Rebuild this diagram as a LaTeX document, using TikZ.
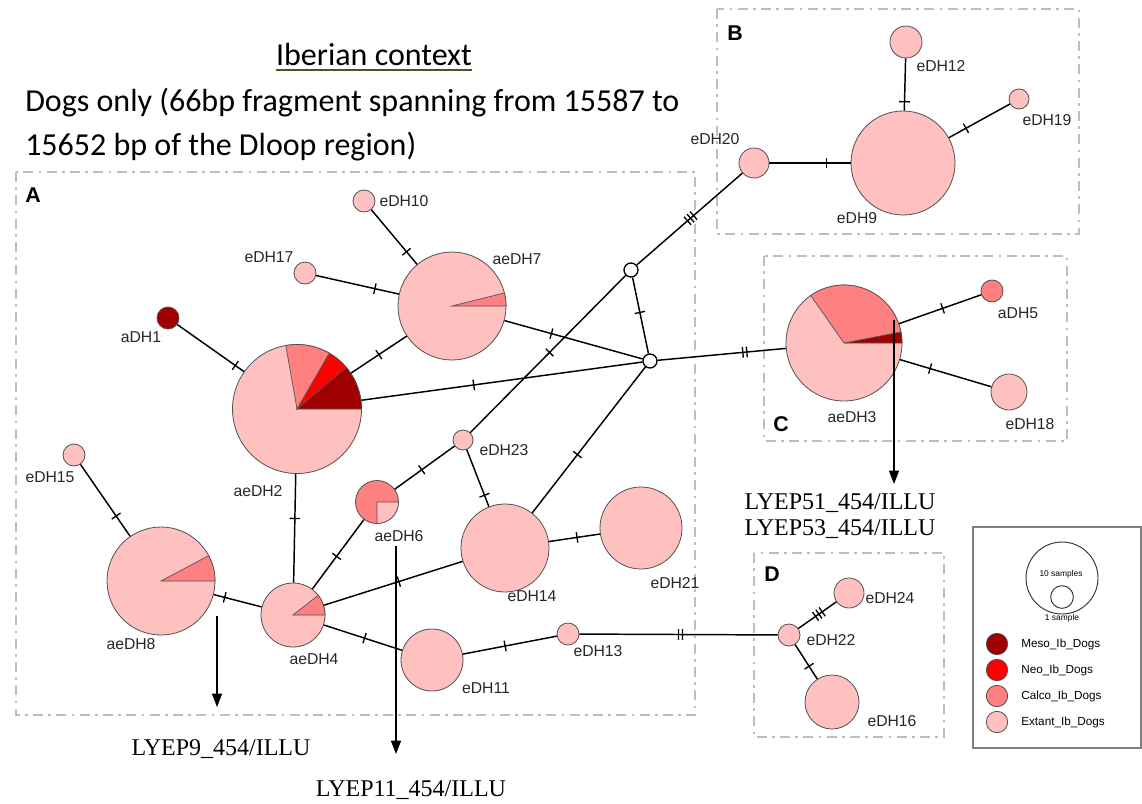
\documentclass[tikz,border=0pt]{standalone}
\usepackage{fontspec}
\setmainfont{Liberation Sans}
\newfontfamily\calibrifont{Carlito}
\newfontfamily\timesfont{Liberation Serif}
\usepackage{xcolor}
\usepackage{tikz}
\usetikzlibrary{arrows.meta, decorations.markings}

\definecolor{extant}{RGB}{255,192,192}
\definecolor{calco}{RGB}{255,128,128}
\definecolor{neo}{RGB}{255,0,0}
\definecolor{meso}{RGB}{160,0,0}
\definecolor{rim}{RGB}{80,80,80}
\definecolor{boxgray}{RGB}{190,190,190}
\definecolor{olivebar}{RGB}{61,90,39}

\newcommand{\pieslice}[5]{%
  \filldraw [draw=rim, line width=0.5pt, fill=#5] (#1.center) -- ++(#3:{#2*0.75pt})
    arc [start angle=#3, end angle=#4, radius={#2*0.75pt}] -- cycle;}

\begin{document}
\begin{tikzpicture}[
    x=0.75pt, y=-0.75pt,
    hap/.style={circle, draw=rim, line width=0.6pt, fill=extant, inner sep=0pt, minimum size=#1*1.5pt},
    medvec/.style={circle, draw=black, line width=1pt, fill=white, inner sep=0pt, minimum size=10.5pt},
    link/.style={line width=1.1pt},
    tickone/.style={postaction={decorate, decoration={markings, mark=at position #1 with {\draw [line width=1pt] (0pt,-4pt) -- (0pt,4pt);}}}},
    ticktwo/.style={postaction={decorate, decoration={markings, mark=at position #1 with {\draw [line width=1pt] (-1.5pt,-4pt) -- (-1.5pt,4pt) (1.5pt,-4pt) -- (1.5pt,4pt);}}}},
    tickthree/.style={postaction={decorate, decoration={markings, mark=at position #1 with {\draw [line width=1pt] (-3pt,-4pt) -- (-3pt,4pt) (0pt,-4pt) -- (0pt,4pt) (3pt,-4pt) -- (3pt,4pt);}}}},
    region/.style={draw=boxgray, line width=1.4pt, dash pattern=on 7.5pt off 4pt on 2pt off 4pt},
    boxletter/.style={font=\bfseries\fontsize{16}{18}\selectfont},
    lab/.style={font=\fontsize{11.8}{14}\selectfont, text=black!85, inner sep=0pt},
    pointer/.style={line width=1pt, -{Triangle[length=10pt, width=7.5pt]}},
    tag/.style={font=\timesfont\fontsize{18}{19.5}\selectfont, align=center, inner sep=0pt},
    keytext/.style={font=\fontsize{8.8}{10}\selectfont, anchor=west, inner sep=0pt},
    heading/.style={font=\calibrifont\fontsize{24}{28}\selectfont, inner sep=0pt}
]
    \useasboundingbox (0,0) rectangle (1142,803);

    \node [heading, anchor=base] (title) at (374,65) {Iberian context};
    \draw [olivebar, line width=1.5pt] ([yshift=-4pt]title.base west) -- ([yshift=-4pt]title.base east);
    \node [heading, anchor=base west] (sub1) at (25,111) {Dogs only (66bp fragment spanning from 15587 to};
    \node [heading, anchor=base west] (sub2) at (25,155) {15652 bp of the Dloop region)};

    \draw [region] (16,172) rectangle (695,715);
    \draw [region] (717,9) rectangle (1079,234);
    \draw [region] (764,256) rectangle (1067,441);
    \draw [region] (754,553) rectangle (944,737);
    \node [boxletter] (letA) at (33,195) {A};
    \node [boxletter] (letB) at (735,33) {B};
    \node [boxletter] (letC) at (781,424) {C};
    \node [boxletter] (letD) at (772,574) {D};

    \node [hap=64.5] (aeDH2) at (297,409) {};
    \node [hap=54] (aeDH7) at (452,306) {};
    \node [hap=54] (aeDH8) at (161,581) {};
    \node [hap=32] (aeDH4) at (293,615) {};
    \node [hap=21.5, fill=calco] (aeDH6) at (377,502) {};
    \node [hap=58] (aeDH3) at (844,343) {};
    \node [hap=11, fill=meso] (aDH1) at (168,318) {};
    \node [hap=11] (eDH10) at (364,201) {};
    \node [hap=11] (eDH17) at (305,273) {};
    \node [hap=11] (eDH15) at (74,455) {};
    \node [hap=10] (eDH23) at (463,440) {};
    \node [hap=44] (eDH14) at (505,548) {};
    \node [hap=41] (eDH21) at (641,528) {};
    \node [hap=31] (eDH11) at (432,660) {};
    \node [hap=11] (eDH13) at (568,634) {};
    \node [hap=11] (eDH22) at (789,635) {};
    \node [hap=15] (eDH24) at (849,593) {};
    \node [hap=27] (eDH16) at (832,702) {};
    \node [hap=15] (eDH20) at (754,163) {};
    \node [hap=52] (eDH9) at (903,163) {};
    \node [hap=16] (eDH12) at (906,42) {};
    \node [hap=10] (eDH19) at (1019,99) {};
    \node [hap=11, fill=calco] (aDH5) at (992,291) {};
    \node [hap=18] (eDH18) at (1009,392) {};
    \node [medvec] (mv1) at (631,270) {};
    \node [medvec] (mv2) at (650,361) {};

    \draw [link, tickone=0.87] (aDH1) -- (aeDH2);
    \draw [link, tickone=0.71] (eDH17) -- (aeDH7);
    \draw [link, tickone=0.77] (eDH10) -- (aeDH7);
    \draw [link, tickone=0.5] (aeDH2) -- (aeDH7);
    \draw [link, tickone=0.34] (aeDH7) -- (mv2);
    \draw [link, tickone=0.4] (aeDH2) -- (mv2);
    \draw [link, tickone=0.46] (mv1) -- (mv2);
    \draw [link, tickthree=0.51] (mv1) -- (eDH20);
    \draw [link, tickone=0.49] (mv1) -- (eDH23);
    \draw [link, tickone=0.55] (eDH23) -- (aeDH6);
    \draw [link, tickone=0.8] (eDH23) -- (eDH14);
    \draw [link, tickone=0.6] (mv2) -- (eDH14);
    \draw [link, ticktwo=0.68] (mv2) -- (aeDH3);
    \draw [link, tickone=0.53] (aeDH3) -- (aDH5);
    \draw [link, tickone=0.33] (aeDH3) -- (eDH18);
    \draw [link, tickone=0.7] (eDH20) -- (eDH9);
    \draw [link, tickone=0.17] (eDH9) -- (eDH12);
    \draw [link, tickone=0.28] (eDH9) -- (eDH19);
    \draw [link, tickone=0.41] (aeDH2) -- (aeDH4);
    \draw [link, tickone=0.53] (aeDH6) -- (aeDH4);
    \draw [link, tickone=0.54] (aeDH4) -- (eDH14);
    \draw [link, tickone=0.23] (aeDH8) -- (aeDH4);
    \draw [link, tickone=0.72] (eDH15) -- (aeDH8);
    \draw [link, tickone=0.52] (aeDH4) -- (eDH11);
    \draw [link, tickone=0.45] (eDH11) -- (eDH13);
    \draw [link, ticktwo=0.51] (eDH13) -- (eDH22);
    \draw [link, tickthree=0.54] (eDH22) -- (eDH24);
    \draw [link, tickone=0.63] (eDH22) -- (eDH16);
    \draw [link, tickone=0.55] (eDH14) -- (eDH21);

    \pieslice{aeDH2}{64.5}{0}{40}{meso}
    \pieslice{aeDH2}{64.5}{40}{60}{neo}
    \pieslice{aeDH2}{64.5}{60}{100}{calco}
    \pieslice{aeDH7}{54}{0}{14}{calco}
    \pieslice{aeDH3}{58}{0}{11}{meso}
    \pieslice{aeDH3}{58}{11}{125}{calco}
    \pieslice{aeDH8}{54}{0}{28}{calco}
    \pieslice{aeDH4}{32}{0}{38}{calco}
    \pieslice{aeDH6}{21.5}{-90}{0}{extant}

    \node [lab] (l-eDH10) at (404,201) {eDH10};
    \node [lab] (l-eDH17) at (269,257) {eDH17};
    \node [lab] (l-aeDH7) at (517,259) {aeDH7};
    \node [lab] (l-aDH1) at (141,337) {aDH1};
    \node [lab] (l-aeDH2) at (258,491) {aeDH2};
    \node [lab] (l-eDH15) at (50,477) {eDH15};
    \node [lab] (l-aeDH8) at (131,644) {aeDH8};
    \node [lab] (l-aeDH4) at (314,659) {aeDH4};
    \node [lab] (l-aeDH6) at (399,536) {aeDH6};
    \node [lab] (l-eDH23) at (504,450) {eDH23};
    \node [lab] (l-eDH14) at (532,596) {eDH14};
    \node [lab] (l-eDH21) at (675,583) {eDH21};
    \node [lab] (l-eDH11) at (486,688) {eDH11};
    \node [lab] (l-eDH13) at (598,651) {eDH13};
    \node [lab] (l-eDH20) at (715,139) {eDH20};
    \node [lab] (l-eDH9) at (857,218) {eDH9};
    \node [lab] (l-eDH12) at (941,66) {eDH12};
    \node [lab] (l-eDH19) at (1047,120) {eDH19};
    \node [lab] (l-aDH5) at (1018,313) {aDH5};
    \node [lab] (l-aeDH3) at (852,417) {aeDH3};
    \node [lab] (l-eDH18) at (1030,424) {eDH18};
    \node [lab] (l-eDH22) at (831,640) {eDH22};
    \node [lab] (l-eDH24) at (890,598) {eDH24};
    \node [lab] (l-eDH16) at (892,721) {eDH16};

    \coordinate (from3) at (894,320);
    \coordinate (to3) at (894,484);
    \coordinate (from8) at (217,616);
    \coordinate (to8) at (217,707);
    \coordinate (from6) at (396,546);
    \coordinate (to6) at (396,754);
    \draw [pointer] (from3) -- (to3);
    \draw [pointer] (from8) -- (to8);
    \draw [pointer] (from6) -- (to6);
    \node [tag] (tag3) at (840,516) {LYEP51\_454/ILLU\\LYEP53\_454/ILLU};
    \node [tag] (tag8) at (221,749) {LYEP9\_454/ILLU};
    \node [tag] (tag6) at (411,790) {LYEP11\_454/ILLU};

    \draw [draw=gray, line width=1pt] (973,527) rectangle (1141,748);
    \node [circle, draw=black!80, line width=0.7pt, minimum size=54pt, inner sep=0pt] (ten) at (1062,578) {};
    \node [circle, draw=black!80, line width=0.7pt, minimum size=17pt, inner sep=0pt] (one) at (1062,597) {};
    \node [font=\fontsize{6.3}{7}\selectfont, inner sep=0pt] (tenlab) at (1061,574) {10 samples};
    \node [font=\fontsize{6.3}{7}\selectfont, inner sep=0pt] (onelab) at (1062,618) {1 sample};
    \node [hap=10.7, fill=meso] (keyMeso) at (997,644) {};
    \node [hap=10.7, fill=neo] (keyNeo) at (997,670) {};
    \node [hap=10.7, fill=calco] (keyCalco) at (997,696) {};
    \node [hap=10.7, fill=extant] (keyExtant) at (997,722) {};
    \node [keytext] (t-Meso) at (1021,644) {Meso\_Ib\_Dogs};
    \node [keytext] (t-Neo) at (1021,670) {Neo\_Ib\_Dogs};
    \node [keytext] (t-Calco) at (1021,696) {Calco\_Ib\_Dogs};
    \node [keytext] (t-Extant) at (1021,722) {Extant\_Ib\_Dogs};
\end{tikzpicture}
\end{document}
